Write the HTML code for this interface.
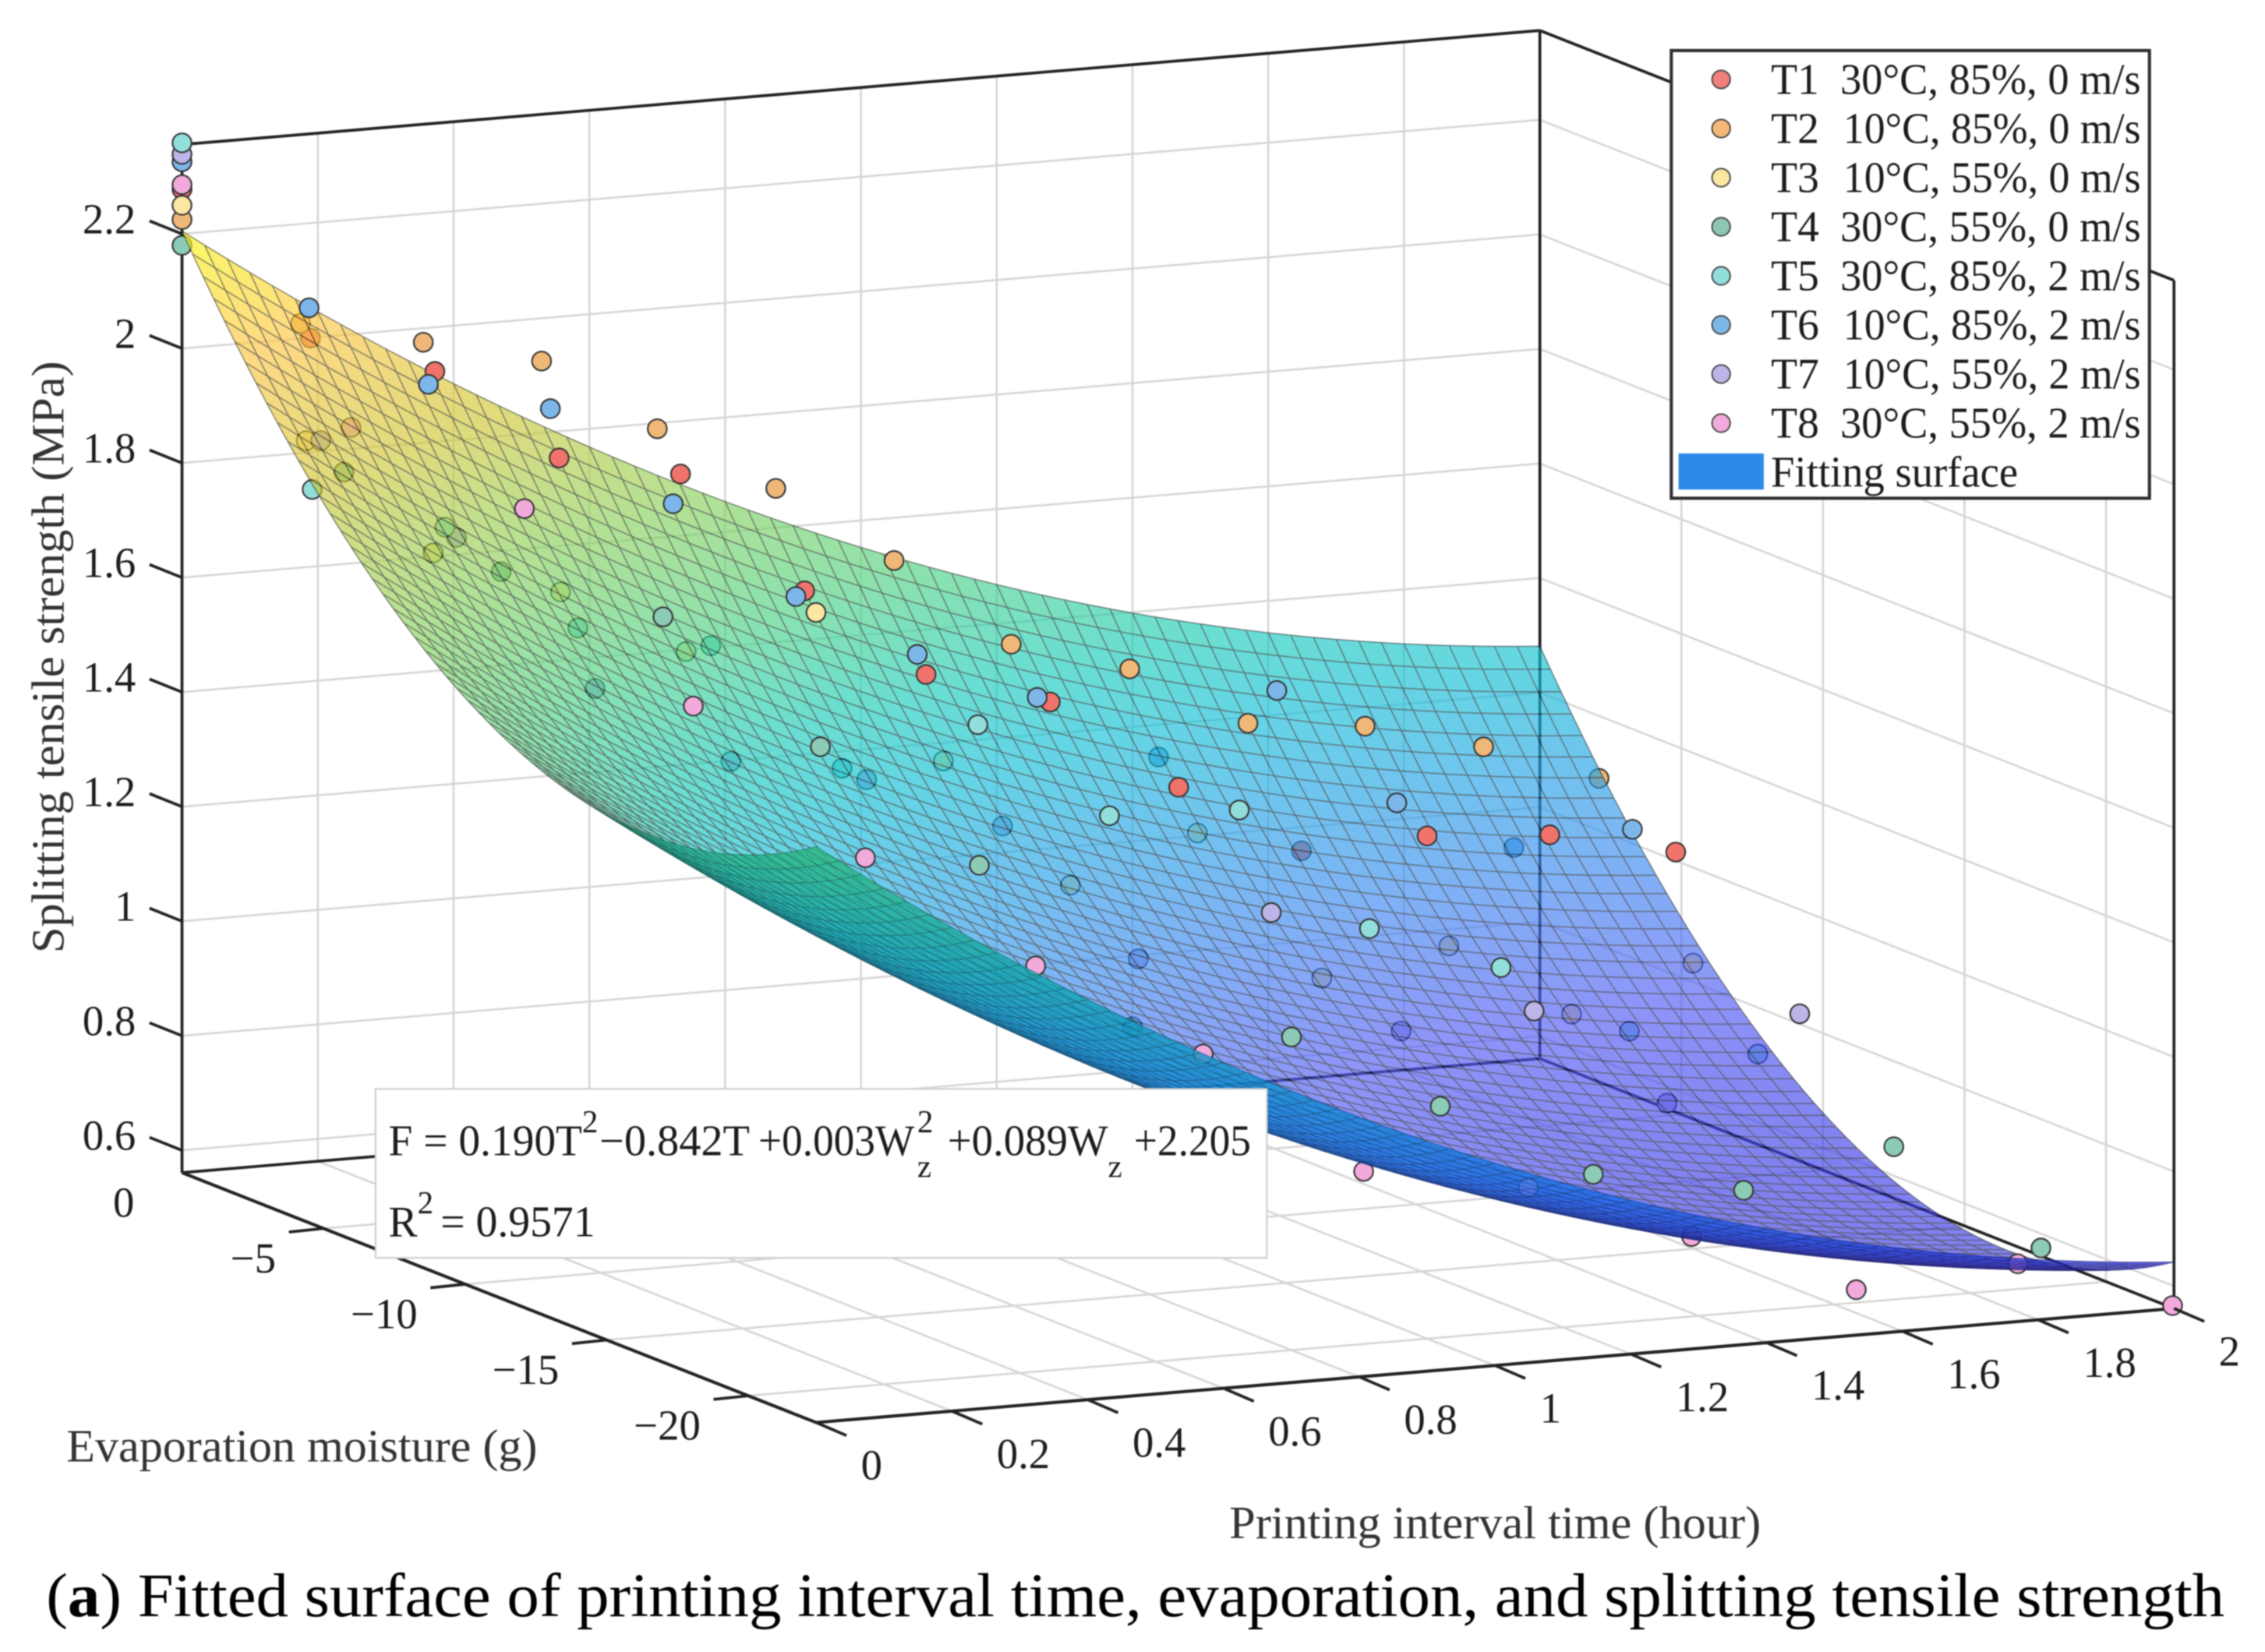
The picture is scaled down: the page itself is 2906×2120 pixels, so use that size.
<!DOCTYPE html>
<html lang="en">
<head>
<meta charset="utf-8">
<title>Fitted surface of printing interval time, evaporation, and splitting tensile strength</title>
<style>
html,body{margin:0;padding:0;background:#fff;width:2906px;height:2120px;overflow:hidden}
svg{display:block;filter:blur(0.7px)}
text{font-family:"Liberation Serif",serif;fill:#1c1c1c}
</style>
</head>
<body>
<svg id="chart" xmlns="http://www.w3.org/2000/svg" width="2906" height="2120" viewBox="0 0 1568 1143.9">
  <g id="grid"></g>
  <g id="box"></g>
  <g id="under"></g>
  <g id="surface" opacity="0.65"></g>
  <g id="over"></g>
  <g id="flap" opacity="0.8"></g>
  <g id="ticks"></g>

  <text transform="translate(44,660) rotate(-90)" font-size="32" textLength="410" lengthAdjust="spacingAndGlyphs" style="fill:#333">Splitting tensile strength (MPa)</text>
  <text x="46" y="1012" font-size="32" textLength="326" lengthAdjust="spacingAndGlyphs" style="fill:#333">Evaporation moisture (g)</text>
  <text x="851" y="1065" font-size="32" textLength="368" lengthAdjust="spacingAndGlyphs" style="fill:#333">Printing interval time (hour)</text>

  <g>
    <rect x="260" y="754" width="617" height="117" fill="#fff" stroke="#cfcfcf" stroke-width="1.2"/>
    <text x="269" y="800" font-size="30" textLength="134" lengthAdjust="spacingAndGlyphs">F = 0.190T</text>
    <text x="403" y="784" font-size="22">2</text>
    <text x="415" y="800" font-size="30" textLength="104" lengthAdjust="spacingAndGlyphs">−0.842T</text>
    <text x="525" y="800" font-size="30" textLength="108" lengthAdjust="spacingAndGlyphs">+0.003W</text>
    <text x="635" y="784" font-size="22">2</text>
    <text x="635" y="815" font-size="22">z</text>
    <text x="656" y="800" font-size="30" textLength="111" lengthAdjust="spacingAndGlyphs">+0.089W</text>
    <text x="767" y="815" font-size="22">z</text>
    <text x="785" y="800" font-size="30" textLength="81" lengthAdjust="spacingAndGlyphs">+2.205</text>
    <text x="269" y="856" font-size="30">R</text>
    <text x="289" y="840" font-size="22">2</text>
    <text x="305" y="856" font-size="30" textLength="107" lengthAdjust="spacingAndGlyphs">= 0.9571</text>
  </g>

  <g>
    <rect x="1157" y="35" width="331" height="310" fill="#fff" stroke="#2e2e2e" stroke-width="2.2"/>
    <g><circle cx="1191.5" cy="55" r="6.3" fill="#f0807a" stroke="#444" stroke-width="1"/><text x="1226" y="65" font-size="30">T1</text><text x="1274" y="65" font-size="30" textLength="208" lengthAdjust="spacingAndGlyphs">30°C, 85%, 0 m/s</text></g>
    <g><circle cx="1191.5" cy="89" r="6.3" fill="#f5b878" stroke="#444" stroke-width="1"/><text x="1226" y="99" font-size="30">T2</text><text x="1276" y="99" font-size="30" textLength="206" lengthAdjust="spacingAndGlyphs">10°C, 85%, 0 m/s</text></g>
    <g><circle cx="1191.5" cy="123" r="6.3" fill="#fbe7a1" stroke="#444" stroke-width="1"/><text x="1226" y="133" font-size="30">T3</text><text x="1276" y="133" font-size="30" textLength="206" lengthAdjust="spacingAndGlyphs">10°C, 55%, 0 m/s</text></g>
    <g><circle cx="1191.5" cy="157" r="6.3" fill="#8cc7b5" stroke="#444" stroke-width="1"/><text x="1226" y="167" font-size="30">T4</text><text x="1274" y="167" font-size="30" textLength="208" lengthAdjust="spacingAndGlyphs">30°C, 55%, 0 m/s</text></g>
    <g><circle cx="1191.5" cy="191" r="6.3" fill="#92dedb" stroke="#444" stroke-width="1"/><text x="1226" y="201" font-size="30">T5</text><text x="1274" y="201" font-size="30" textLength="208" lengthAdjust="spacingAndGlyphs">30°C, 85%, 2 m/s</text></g>
    <g><circle cx="1191.5" cy="225" r="6.3" fill="#7db7ea" stroke="#444" stroke-width="1"/><text x="1226" y="235" font-size="30">T6</text><text x="1276" y="235" font-size="30" textLength="206" lengthAdjust="spacingAndGlyphs">10°C, 85%, 2 m/s</text></g>
    <g><circle cx="1191.5" cy="259" r="6.3" fill="#bdb5e8" stroke="#444" stroke-width="1"/><text x="1226" y="269" font-size="30">T7</text><text x="1276" y="269" font-size="30" textLength="206" lengthAdjust="spacingAndGlyphs">10°C, 55%, 2 m/s</text></g>
    <g><circle cx="1191.5" cy="293" r="6.3" fill="#f2a9dc" stroke="#444" stroke-width="1"/><text x="1226" y="303" font-size="30">T8</text><text x="1274" y="303" font-size="30" textLength="208" lengthAdjust="spacingAndGlyphs">30°C, 55%, 2 m/s</text></g>
    <g><rect x="1162" y="314" width="59" height="25" fill="#2b8ae8"/><text x="1226" y="337" font-size="30" textLength="171" lengthAdjust="spacingAndGlyphs">Fitting surface</text></g>
  </g>

  <text x="32" y="1119" font-size="43" textLength="1508" lengthAdjust="spacingAndGlyphs" style="fill:#000">(<tspan font-weight="bold">a</tspan>) Fitted surface of printing interval time, evaporation, and splitting tensile strength</text>
</svg>

<script>
// ---- Axis ticks ----
const tTicks = [0, 0.2, 0.4, 0.6, 0.8, 1, 1.2, 1.4, 1.6, 1.8, 2];
const tTickLabels = ['0', '0.2', '0.4', '0.6', '0.8', '1', '1.2', '1.4', '1.6', '1.8', '2'];
const wTicks = [0, -5, -10, -15, -20];
const wTickLabels = ['0', '−5', '−10', '−15', '−20'];
const zTicks = [0.6, 0.8, 1, 1.2, 1.4, 1.6, 1.8, 2, 2.2];
const zTickLabels = ['0.6', '0.8', '1', '1.2', '1.4', '1.6', '1.8', '2', '2.2'];
const tRange = [0, 2];
const wRange = [0, -22.4];
const zRange = [0.561, 2.356];

// ---- Fitted surface: F = a T^2 + b T + c W^2 + d W + e (c fitted to the drawn sheet) ----
const surfaceCoefficients = [0.19, -0.842, 0.0027, 0.089, 2.205];

// ---- Measurements: printing interval time (hour), one shared sampling schedule ----
const sampleTimes = [0, 0.1667, 0.3333, 0.5, 0.6667, 0.8333, 1, 1.1667, 1.3333, 1.5, 1.6667, 1.8333, 2];

// ---- Evaporation moisture W (g) per test ----
const t1Water = [0, -0.54, -0.94, -1.33, -1.62, -2.01, -2.30, -2.69, -3.23, -3.57, -4.01, -4.35, -4.80];
const t2Water = [0, -0.19, -0.53, -0.71, -0.80, -0.99, -1.17, -1.31, -1.50, -1.68, -1.82, -2.01, -2.09];
const t3Water = [0, -0.39, -0.88, -1.38, -1.82, -2.41, -2.91, -3.40, -3.89, -4.29, -4.78, -5.12, -5.41];
const t4Water = [0, -1.72, -3.28, -5.00, -6.56, -8.18, -9.59, -11.21, -12.47, -13.88, -15.19, -16.50, -17.70];
const t5Water = [0, -0.60, -1.29, -1.99, -2.69, -3.33, -4.13, -4.78, -5.37, -5.97, -6.62, -7.16, -7.70];
const t6Water = [0, -0.49, -0.71, -1.02, -1.36, -1.70, -1.99, -2.23, -2.52, -2.70, -2.94, -3.08, -3.27];
const t7Water = [0, -0.90, -1.70, -2.60, -3.40, -4.20, -5.00, -5.80, -6.50, -7.09, -7.79, -8.49, -9.18];
const t8Water = [0, -1.97, -4.10, -6.07, -8.15, -10.17, -12.09, -13.76, -15.58, -17.35, -19.17, -20.88, -22.35];

// ---- Splitting tensile strength (MPa) per test ----
const t1Strength = [2.278, 2.012, 1.945, 1.785, 1.746, 1.533, 1.376, 1.319, 1.164, 1.043, 1.061, 1.053, 1.015];
const t2Strength = [2.225, 2.031, 1.988, 1.942, 1.809, 1.692, 1.553, 1.393, 1.337, 1.229, 1.210, 1.161, 1.091];
const t3Strength = [2.250, 1.830, 1.627, 1.552, 1.440, 1.503, 1.237, 1.013, 1.097, 0.835, 0.884, 0.755, 0.833];
const t4Strength = [2.180, 1.801, 1.641, 1.579, 1.366, 1.174, 0.903, 0.900, 0.787, 0.679, 0.660, 0.745, 0.575];
const t5Strength = [2.359, 1.749, 1.680, 1.501, 1.467, 1.249, 1.324, 1.161, 1.166, 0.954, 0.882, 0.765, 0.719];
const t6Strength = [2.326, 2.064, 1.918, 1.865, 1.689, 1.517, 1.405, 1.318, 1.203, 1.306, 1.098, 1.006, 1.025];
const t7Strength = [2.339, 1.840, 1.670, 1.407, 1.279, 1.246, 1.164, 0.931, 1.009, 0.797, 0.829, 0.665, 0.818];
const t8Strength = [2.286, 1.884, 1.767, 1.444, 1.203, 1.037, 0.904, 0.715, 0.706, 0.638, 0.564, 0.626, 0.565];

const NS = 'http://www.w3.org/2000/svg';

// Orthographic axis functions (viewBox units)
function sx(t, w) {
  return 126 + 470 * (t / tRange[1]) * 2 + 439 * (w / wRange[1]);
}
function sy(t, w, z) {
  return 812 - 79 * (t / tRange[1]) + 173 * (w / wRange[1]) - (z - zRange[0]) * 396.6;
}
function fit(t, w) {
  const c = surfaceCoefficients;
  return c[0] * t * t + c[1] * t + c[2] * w * w + c[3] * w + c[4];
}

function make(tag, attrs, parent) {
  const el = document.createElementNS(NS, tag);
  for (const k in attrs) el.setAttribute(k, attrs[k]);
  parent.appendChild(el);
  return el;
}
function line(parent, name, x1, y1, x2, y2, color, width) {
  const el = make('line', {x1: x1, y1: y1, x2: x2, y2: y2, stroke: color, 'stroke-width': width}, parent);
  
  
  return el;
}

// ---- Grid ----
const gridG = document.getElementById('grid');
const GC = '#d6d6d6', GW = 1.4;
tTicks.forEach(function (t) {
  line(gridG, 'grid-wall-time', sx(t, 0), sy(t, 0, zRange[0]), sx(t, 0), sy(t, 0, zRange[1]), GC, GW);
  line(gridG, 'grid-floor-time', sx(t, 0), sy(t, 0, zRange[0]), sx(t, wRange[1]), sy(t, wRange[1], zRange[0]), GC, GW);
});
wTicks.forEach(function (w) {
  line(gridG, 'grid-wall-water', sx(2, w), sy(2, w, zRange[0]), sx(2, w), sy(2, w, zRange[1]), GC, GW);
  line(gridG, 'grid-floor-water', sx(0, w), sy(0, w, zRange[0]), sx(2, w), sy(2, w, zRange[0]), GC, GW);
});
zTicks.forEach(function (z) {
  line(gridG, 'grid-wall-strength', sx(0, 0), sy(0, 0, z), sx(2, 0), sy(2, 0, z), GC, GW);
  line(gridG, 'grid-wall-strength', sx(2, 0), sy(2, 0, z), sx(2, wRange[1]), sy(2, wRange[1], z), GC, GW);
});

// ---- Box ----
const boxG = document.getElementById('box');
const BC = '#222', BW = 2;
const zLo = zRange[0], zHi = zRange[1], wE = wRange[1];
line(boxG, 'axis-strength', sx(0, 0), sy(0, 0, zLo), sx(0, 0), sy(0, 0, zHi), BC, BW);
line(boxG, 'box-back-vertical', sx(2, 0), sy(2, 0, zLo), sx(2, 0), sy(2, 0, zHi), BC, BW);
line(boxG, 'box-right-vertical', sx(2, wE), sy(2, wE, zLo), sx(2, wE), sy(2, wE, zHi), BC, BW);
line(boxG, 'box-top-back', sx(0, 0), sy(0, 0, zHi), sx(2, 0), sy(2, 0, zHi), BC, BW);
line(boxG, 'box-top-right', sx(2, 0), sy(2, 0, zHi), sx(2, wE), sy(2, wE, zHi), BC, BW);
line(boxG, 'box-floor-back', sx(0, 0), sy(0, 0, zLo), sx(2, 0), sy(2, 0, zLo), BC, BW);
line(boxG, 'box-floor-right', sx(2, 0), sy(2, 0, zLo), sx(2, wE), sy(2, wE, zLo), BC, BW);
line(boxG, 'axis-water', sx(0, 0), sy(0, 0, zLo), sx(0, wE), sy(0, wE, zLo), BC, 2.2);
line(boxG, 'axis-time', sx(0, wE), sy(0, wE, zLo), sx(2, wE), sy(2, wE, zLo), BC, 2.2);

// ---- Surface ----
const topStops = [
  [0.60, 0x80, 0x80, 0xf0], [0.80, 0x8e, 0x94, 0xf8], [0.95, 0x82, 0xae, 0xf6], [1.10, 0x72, 0xc2, 0xf0],
  [1.25, 0x64, 0xd6, 0xe4], [1.35, 0x6a, 0xde, 0xd2], [1.50, 0x8c, 0xe2, 0xae], [1.65, 0xb0, 0xe2, 0x96],
  [1.85, 0xe2, 0xdb, 0x7c], [2.03, 0xff, 0xd9, 0x84], [2.20, 0xfa, 0xfa, 0x66]
];
const underStops = [
  [0.62, 0x5c, 0x58, 0xd8], [0.70, 0x50, 0x68, 0xe6], [0.85, 0x48, 0x8c, 0xf0],
  [1.05, 0x40, 0xa4, 0xe0], [1.30, 0x40, 0xb8, 0xc0], [1.57, 0x58, 0xc8, 0x96]
];
const topAlpha = 0.65;
const underAlpha = 0.8;
function ramp(stops, z, alpha) {
  let a = stops[0], b = stops[stops.length - 1];
  if (z <= a[0]) b = a;
  else if (z >= b[0]) a = b;
  else for (let i = 0; i < stops.length - 1; i++) {
    if (z >= stops[i][0] && z <= stops[i + 1][0]) { a = stops[i]; b = stops[i + 1]; break; }
  }
  const f = a === b ? 0 : (z - a[0]) / (b[0] - a[0]);
  const out = [];
  for (let k = 1; k < 4; k++) {
    const shown = a[k] + (b[k] - a[k]) * f;
    out.push(Math.max(0, Math.min(255, (shown - (1 - alpha) * 255) / alpha)));
  }
  return out;
}
function rgb(c, m) {
  return 'rgb(' + Math.round(c[0] * m) + ',' + Math.round(c[1] * m) + ',' + Math.round(c[2] * m) + ')';
}
const surfG = document.getElementById('surface');
const flapG = document.getElementById('flap');
const MESH = 60;
let refSign = 0;
for (let j = 0; j < MESH; j++) {
  for (let i = 0; i < MESH; i++) {
    const t0 = tRange[1] * i / MESH, t1 = tRange[1] * (i + 1) / MESH;
    const w0 = wRange[1] * j / MESH, w1 = wRange[1] * (j + 1) / MESH;
    const corners = [[t0, w0], [t1, w0], [t1, w1], [t0, w1]];
    const pts = corners.map(function (p) { return [sx(p[0], p[1]), sy(p[0], p[1], fit(p[0], p[1]))]; });
    const area = (pts[2][0] - pts[0][0]) * (pts[3][1] - pts[1][1]) - (pts[3][0] - pts[1][0]) * (pts[2][1] - pts[0][1]);
    if (!refSign) refSign = Math.sign(area);
    const zMid = fit((t0 + t1) / 2, (w0 + w1) / 2);
    const underside = Math.sign(area) !== refSign;
    const col = underside ? ramp(underStops, zMid, underAlpha) : ramp(topStops, zMid, topAlpha);
    const poly = make('polygon', {
      points: pts.map(function (p) { return p[0].toFixed(2) + ',' + p[1].toFixed(2); }).join(' '),
      fill: rgb(col, 1),
      stroke: rgb(col, underside ? 0.62 : 0.22),
      'stroke-width': underside ? 0.55 : 0.7,
      'stroke-linejoin': 'round'
    }, underside ? flapG : surfG);
    
    
  }
}

// ---- Scatter points, drawn from the data; above/below decided against the surface ----
const seriesTable = {
  t1: [t1Water, t1Strength, '#f0736b'],
  t2: [t2Water, t2Strength, '#f0b878'],
  t3: [t3Water, t3Strength, '#fbe7a1'],
  t4: [t4Water, t4Strength, '#8ccbb6'],
  t5: [t5Water, t5Strength, '#92dedb'],
  t6: [t6Water, t6Strength, '#7db7ea'],
  t7: [t7Water, t7Strength, '#bdb5e8'],
  t8: [t8Water, t8Strength, '#f2a9dc']
};
const drawOrder = ['t1', 't2', 't3', 't4', 't6', 't7', 't5', 't8'];
const underG = document.getElementById('under');
const overG = document.getElementById('over');
drawOrder.forEach(function (id) {
  const s = seriesTable[id];
  sampleTimes.forEach(function (t, k) {
    const w = s[0][k], f = s[1][k];
    const parent = f < fit(t, w) ? underG : overG;
    const pt = make('circle', {cx: sx(t, w), cy: sy(t, w, f), r: 6.6, fill: s[2], stroke: '#333', 'stroke-width': 1.1}, parent);
    
    
  });
});

// ---- Tick marks and labels ----
const tickG = document.getElementById('ticks');
function label(name, x, y, str, anchor) {
  const el = make('text', {x: x, y: y, 'font-size': 29.5, 'text-anchor': anchor}, tickG);
  el.textContent = str;
  
  
}
zTicks.forEach(function (z, i) {
  const x = sx(0, 0), y = sy(0, 0, z);
  line(tickG, 'tick-strength', x, y, x - 22.5, y - 9, BC, 2);
  label('tick-label-strength', 94, y - 0.5, zTickLabels[i], 'end');
});
wTicks.forEach(function (w, i) {
  const x = sx(0, w), y = sy(0, w, zLo);
  if (w !== 0) line(tickG, 'tick-water', x, y, x - 24, y + 2.5, BC, 2);
  label('tick-label-water', x - 33, y + 30.5, wTickLabels[i], 'end');
});
tTicks.forEach(function (t, i) {
  const x = sx(t, wE), y = sy(t, wE, zLo);
  line(tickG, 'tick-time', x, y, x + 21, y + 9, BC, 2);
  label('tick-label-time', x + 31, y + 39.5, tTickLabels[i], 'start');
});
</script>
</body>
</html>
